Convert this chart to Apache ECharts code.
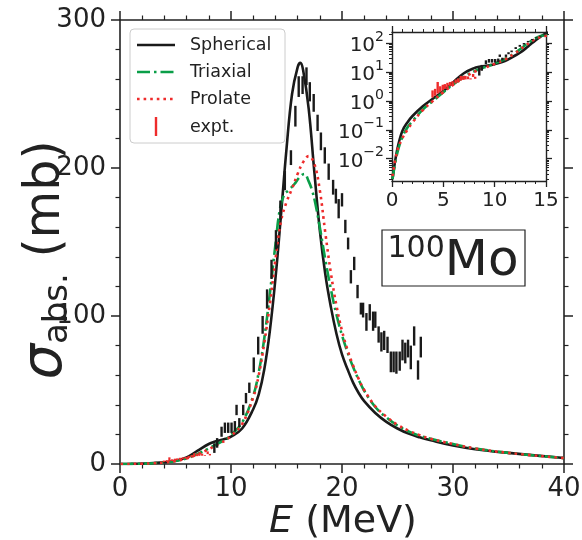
<!DOCTYPE html>
<html><head><meta charset="utf-8">
<script src="https://cdn.jsdelivr.net/npm/echarts@6/dist/echarts.min.js"></script>
<style>html,body{margin:0;padding:0;background:#fff}#c{width:582px;height:540px}</style>
</head><body><div id="c"></div>
<script>
// ---------- data ----------
const mainXTicks = [0, 10, 20, 30, 40];
const mainYTicks = [0, 100, 200, 300];
const insetXTicks = [0, 5, 10, 15];
const insetYTicks = [0.01, 0.1, 1, 10, 100];

const sphE = [0.05,0.5,1,1.5,2,3,4,5,6,7,8,8.5,9,9.5,10,11,12,12.5,13,13.5,14,14.5,15,15.5,16,16.25,16.5,17,17.5,18,18.5,19,19.5,20,20.5,21,21.5,22,23,24,25,26,27,28,30,32,35,40];
const sphS = [0.002,0.02,0.09,0.18,0.3,0.65,1.2,2.2,4.5,9,13.5,15,16,17,18.5,24,37,47,64,90,125,168,213,250,268,271,266,240,198,158,128,106,88,74,64,55,48,42.5,34.5,28.5,24,20.5,18,16,12.5,10,7.5,4];

const triE = [0.05,0.5,1,1.5,2,3,4,5,6,7,8,8.5,9,9.5,10,11,12,12.5,13,13.5,14,14.4,14.8,15.2,15.7,16.2,16.6,17,17.3,17.6,18,18.5,19,19.5,20,20.5,21,21.5,22,23,24,25,26,27,28,30,32,35,40];
const triS = [0.002,0.015,0.055,0.12,0.2,0.5,1.0,2.0,3.8,6.8,10.5,12.5,14.5,16.5,19.5,28,46,62,85,115,148,172,182,185,189,194,196,191,185,176,160,138,118,101,87,75.5,65.5,57,49.5,38.5,31.5,26,22,19,17,13.5,10.5,7.5,4];

const proE = [0.05,0.5,1,1.5,2,3,4,5,6,7,8,8.5,9,9.5,10,11,12,12.5,13,13.5,14,14.5,15,15.5,16,16.5,17,17.5,18,18.5,19,19.5,20,20.5,21,21.5,22,23,24,25,26,27,28,30,32,35,40];
const proS = [0.0025,0.018,0.05,0.1,0.18,0.48,1.0,2.0,3.7,6.5,10,12,14,16,19,27,45,60,82,108,138,164,177,186,196,204,208,203,185,156,129,107,90,77,66.5,57.5,50,39,32,26.5,22.5,19.5,17,13.5,10.5,7.5,4];

const blkE  = [8.5,8.75,9.15,9.45,9.75,10.05,10.35,10.5,10.75,11.1,11.35,11.65,12.05,12.45,12.85,13.25,13.65,14.05,14.45,14.85,15.4,15.8,16.1,16.45,16.8,17.1,17.45,17.8,18.1,18.45,18.8,19.2,19.45,19.7,20.0,20.3,20.55,20.8,21.1,21.4,21.7,21.9,22.2,22.5,22.8,23.0,23.3,23.55,23.8,24.1,24.4,24.65,24.9,25.2,25.45,25.7,25.95,26.2,26.5,26.85,27.1];
const blkLo = [7.5,11,18.4,21,21,21,22,33,25,33,41,48,62,74,88,105,125,145,165,185,202,228,248,250,256,245,238,225,212,203,192,182,176,166,174,156,145,122,131,112,101,99,90,97,90,92,82,76,77,75,62,62,61,63,70,68,72,64,80,57,72];
const blkHi = [14,17.5,25.2,28,28,28,29,40,31,40,48,55,72,86,100,118,138,158,178,198,212,242,262,262,268,258,250,236,224,214,203,192,186,179,183,165,153,131,140,121,109,109,102,108,103,103,93,89,90,86,76,76,76,76,84,82,84,80,93,70,86];

const redE  = [3.95,4.2,4.45,4.7,4.95,5.15,5.4,5.65,5.9,6.2,6.45,6.7,6.95,7.15,7.4,7.65,7.9,8.1];
const redLo = [1.3,1.5,1.8,2.0,2.3,2.6,2.8,3.3,3.6,4.0,4.4,5.0,5.3,5.5,5.6,5.5,6.7,5.8];
const redHi = [2.3,2.6,4.5,3.2,3.6,3.8,4.2,4.5,4.8,5.5,6.0,7.3,7.0,7.3,7.0,6.0,8.5,6.8];

// ---------- styles ----------
const FONT = 'DejaVu Sans';
const INK = '#222222';
const BLACK = '#1a1a1a', GREEN = '#0a9e48', RED = '#ee2b2b';
const insetYMin = 0.0017, insetYMax = 240;

const minorLog = [];
for (let d = -3; d <= 2; d++) for (let k = 2; k <= 9; k++) {
  const v = k * Math.pow(10, d);
  if (v > insetYMin && v < insetYMax) minorLog.push(v);
}

function mainX(pos, labels) {
  return {type:'value', gridIndex:0, position:pos, min:mainXTicks[0], max:mainXTicks[mainXTicks.length-1], interval:10,
    axisLine:{show:true, onZero:false, lineStyle:{color:INK, width:1.6}},
    axisTick:{show:true, inside:false, length:9, lineStyle:{color:INK, width:1.5}},
    minorTick:{show:true, splitNumber:5, length:4.5, lineStyle:{color:INK, width:1.2}},
    axisLabel:{show:labels, fontSize:26, color:INK, fontFamily:FONT, margin:12},
    splitLine:{show:false}, minorSplitLine:{show:false}};
}
function mainY(pos, labels) {
  return {type:'value', gridIndex:0, position:pos, min:mainYTicks[0], max:mainYTicks[mainYTicks.length-1], interval:100,
    axisLine:{show:true, onZero:false, lineStyle:{color:INK, width:1.6}},
    axisTick:{show:true, inside:false, length:9, lineStyle:{color:INK, width:1.5}},
    minorTick:{show:true, splitNumber:5, length:4.5, lineStyle:{color:INK, width:1.2}},
    axisLabel:{show:labels, fontSize:26, color:INK, fontFamily:FONT, margin:14},
    splitLine:{show:false}, minorSplitLine:{show:false}};
}
function insetX(pos, labels) {
  return {type:'value', gridIndex:1, position:pos, min:insetXTicks[0], max:insetXTicks[insetXTicks.length-1], interval:5,
    axisLine:{show:true, onZero:false, lineStyle:{color:INK, width:1.4}},
    axisTick:{show:true, inside:false, length:6, lineStyle:{color:INK, width:1.3}},
    minorTick:{show:true, splitNumber:5, length:3, lineStyle:{color:INK, width:1}},
    axisLabel:{show:labels, fontSize:20, color:INK, fontFamily:FONT, margin:10},
    splitLine:{show:false}, minorSplitLine:{show:false}};
}
function supFmt(v) {
  const e = Math.round(Math.log10(v));
  return '{b|10}{s|' + (e < 0 ? '\u2212' + (-e) : String(e)) + '}';
}
function insetY(pos, vals, len, labels, line) {
  return {type:'log', logBase:10, gridIndex:1, position:pos, min:insetYMin, max:insetYMax,
    axisLine:{show:line, onZero:false, lineStyle:{color:INK, width:1.4}},
    axisTick:{show:true, inside:false, length:len, customValues:vals, lineStyle:{color:INK, width: len > 4 ? 1.3 : 1}},
    minorTick:{show:false},
    axisLabel:{show:labels, customValues:vals, formatter:supFmt, margin:8, color:INK,
      rich:{b:{fontSize:20, fontFamily:FONT, color:INK, lineHeight:26, verticalAlign:'bottom'},
            s:{fontSize:14, fontFamily:FONT, color:INK, lineHeight:14, verticalAlign:'top'}}},
    splitLine:{show:false}};
}

function curve(E, S, xi, yi, ls, z) {
  return {type:'line', xAxisIndex:xi, yAxisIndex:yi, data:E.map((e,i)=>[e,S[i]]),
    showSymbol:false, symbol:'none', smooth:0.4, clip:true, z:z,
    lineStyle:ls, animation:false, silent:true};
}
function bars(E, Lo, Hi, xi, yi, color, maxE, w) {
  const d = [];
  E.forEach((e,i)=>{ if (e <= maxE) d.push([e, Lo[i], Hi[i]]); });
  return {type:'custom', xAxisIndex:xi, yAxisIndex:yi, data:d, encode:{x:0, y:[1,2]}, z:4, clip:true,
    animation:false, silent:true,
    renderItem:function(params, api){
      const a = api.coord([api.value(0), api.value(1)]);
      const b = api.coord([api.value(0), api.value(2)]);
      return {type:'line', shape:{x1:a[0], y1:a[1], x2:b[0], y2:b[1]}, style:{stroke:color, lineWidth:w}};
    }};
}

const lsSph = {color:BLACK, width:2.6, type:'solid'};
const lsTri = {color:GREEN, width:2.6, type:[13,4,2.5,4], cap:'butt'};
const lsPro = {color:RED, width:2.6, type:[2.6,4], cap:'butt'};

const chart = echarts.init(document.getElementById('c'), null, {renderer:'canvas'});
chart.setOption({
  animation:false,
  backgroundColor:'#ffffff',
  grid:[
    {left:120, top:20, width:444, height:444, containLabel:false, outerBoundsMode:'none'},
    {left:392, top:32, width:154, height:149, containLabel:false, outerBoundsMode:'none'}
  ],
  xAxis:[mainX('bottom', true), mainX('top', false), insetX('bottom', true), insetX('top', false)],
  yAxis:[mainY('left', true), mainY('right', false),
         insetY('left', insetYTicks, 6, true, true), insetY('left', minorLog, 3, false, false),
         insetY('right', insetYTicks, 6, false, true), insetY('right', minorLog, 3, false, false)],
  series:[
    curve(sphE, sphS, 0, 0, lsSph, 2),
    curve(triE, triS, 0, 0, lsTri, 3),
    curve(proE, proS, 0, 0, lsPro, 3),
    bars(blkE, blkLo, blkHi, 0, 0, BLACK, 40, 2.4),
    bars(redE, redLo, redHi, 0, 0, RED, 40, 2.2),
    curve(sphE, sphS, 2, 2, lsSph, 2),
    curve(triE, triS, 2, 2, lsTri, 3),
    curve(proE, proS, 2, 2, lsPro, 3),
    bars(blkE, blkLo, blkHi, 2, 2, BLACK, 15, 2.4),
    bars(redE, redLo, redHi, 2, 2, RED, 15, 2.4)
  ],
  graphic:[
    {type:'rect', z:10, shape:{x:130, y:29, width:155, height:114, r:4}, style:{fill:'rgba(255,255,255,0.85)', stroke:'#cccccc', lineWidth:1}},
    {type:'line', z:11, shape:{x1:137, y1:45, x2:175, y2:45}, style:{stroke:BLACK, lineWidth:2.6}},
    {type:'line', z:11, shape:{x1:137, y1:72, x2:175, y2:72}, style:{stroke:GREEN, lineWidth:2.6, lineDash:[13,4,2.5,4]}},
    {type:'line', z:11, shape:{x1:137, y1:99, x2:175, y2:99}, style:{stroke:RED, lineWidth:2.6, lineDash:[2.6,4]}},
    {type:'line', z:11, shape:{x1:156, y1:117, x2:156, y2:136}, style:{stroke:RED, lineWidth:2.4}},
    {type:'text', z:11, x:190, y:45, style:{text:'Spherical', fontSize:17.5, fontFamily:FONT, fill:INK, verticalAlign:'middle'}},
    {type:'text', z:11, x:190, y:72, style:{text:'Triaxial', fontSize:17.5, fontFamily:FONT, fill:INK, verticalAlign:'middle'}},
    {type:'text', z:11, x:190, y:99, style:{text:'Prolate', fontSize:17.5, fontFamily:FONT, fill:INK, verticalAlign:'middle'}},
    {type:'text', z:11, x:190, y:127, style:{text:'expt.', fontSize:17.5, fontFamily:FONT, fill:INK, verticalAlign:'middle'}},
    {type:'text', z:11, x:343, y:522, style:{text:'{i|E}{n| (MeV)}', align:'center', verticalAlign:'middle',
      rich:{i:{fontSize:38, fontStyle:'italic', fontFamily:FONT, fill:INK}, n:{fontSize:38, fontFamily:FONT, fill:INK}}}},
    {type:'text', z:11, x:46, y:260, rotation:Math.PI/2, style:{text:'{s|\u03c3}{u|abs.}{n| (mb)}', align:'center', verticalAlign:'middle',
      rich:{s:{fontSize:56, fontStyle:'italic', fontFamily:FONT, fill:INK, lineHeight:58, verticalAlign:'middle'},
            u:{fontSize:34, fontFamily:FONT, fill:INK, lineHeight:28, verticalAlign:'bottom'},
            n:{fontSize:49, fontFamily:FONT, fill:INK, lineHeight:58, verticalAlign:'middle'}}}},
    {type:'rect', z:10, shape:{x:382, y:230, width:143, height:56}, style:{fill:'#ffffff', stroke:INK, lineWidth:1.2}},
    {type:'text', z:11, x:453, y:262, style:{text:'{a|100}{b|Mo}', align:'center', verticalAlign:'middle',
      rich:{a:{fontSize:30, fontFamily:FONT, fill:INK, lineHeight:30, verticalAlign:'top'},
            b:{fontSize:50, fontFamily:FONT, fill:INK, lineHeight:56, verticalAlign:'middle'}}}}
  ]
});
</script></body></html>
